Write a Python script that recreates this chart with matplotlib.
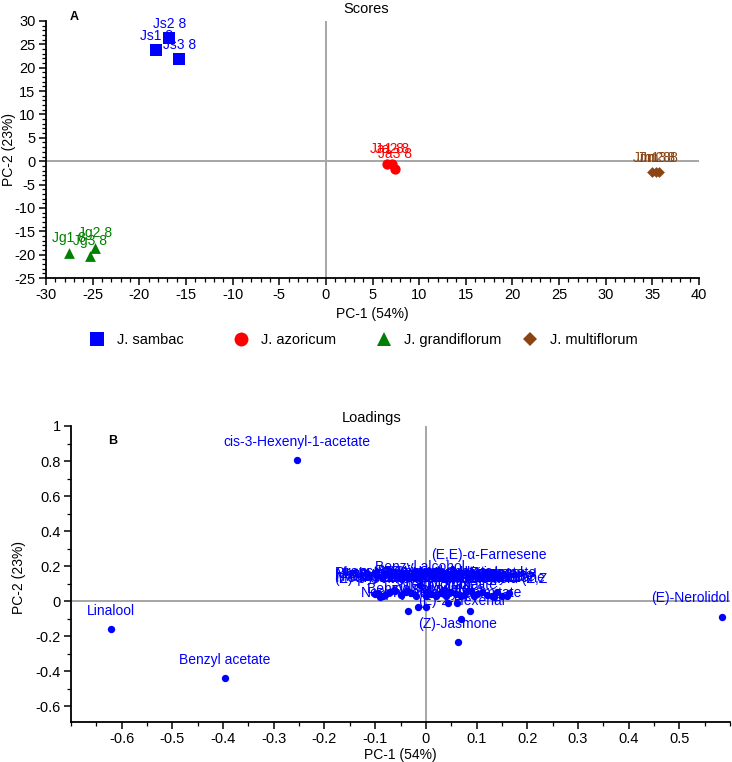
import matplotlib
matplotlib.use('Agg')
import matplotlib.pyplot as plt
from matplotlib.ticker import MultipleLocator
from matplotlib.lines import Line2D

plt.rcParams['font.family'] = ['Liberation Sans', 'DejaVu Sans']
plt.rcParams['axes.unicode_minus'] = False

# ---------------- Scores data ----------------
group_names = ['J. sambac', 'J. azoricum', 'J. grandiflorum', 'J. multiflorum']

sambac_labels = ['Js1 8', 'Js2 8', 'Js3 8']
sambac_pc1 = [-18.2, -16.8, -15.7]
sambac_pc2 = [23.7, 26.3, 21.8]

azoricum_labels = ['Ja1 8', 'Ja2 8', 'Ja3 8']
azoricum_pc1 = [6.6, 7.1, 7.4]
azoricum_pc2 = [-0.6, -0.6, -1.7]

grandiflorum_labels = ['Jg1 8', 'Jg2 8', 'Jg3 8']
grandiflorum_pc1 = [-27.5, -24.7, -25.3]
grandiflorum_pc2 = [-19.6, -18.5, -20.3]

multiflorum_labels = ['Jm1 8', 'Jm2 8', 'Jm3 8']
multiflorum_pc1 = [35.0, 35.4, 35.7]
multiflorum_pc2 = [-2.4, -2.4, -2.4]

# ---------------- Loadings data ----------------
loading_names = [
    'cis-3-Hexenyl-1-acetate', 'Linalool', 'Benzyl acetate', '(E)-Nerolidol',
    '(Z)-Jasmone', '(E,E)-α-Farnesene', '(E)-2-Hexenal', 'Methyl palmitate',
    'Neophytadiene', 'Benzyl salicylate', 'Linalool oxide', 'Methyl linoleate',
    'Nonanal',
    'trans-β-Ocimene', '(E)-β-Ocimene', 'Benzyl alcohol', 'Methyl benzoate',
    'Benzyl benzoate', 'Geranyl acetate', 'Indole', 'Methyl anthranilate',
    'Germacrene D', 'β-Caryophyllene', 'Linoleic acid (Z,Z', 'Methyl salicylate',
    'Eugenol', 'Phytol', 'Isophytol', 'δ-Cadinene', 'Nerol', 'Geraniol',
    '(Z)-3-Hexenyl benzoate', 'Phenylethyl alcohol', 'Methyl jasmonate',
    'Squalene', 'α-Terpineol', 'Benzaldehyde',
    'Methyl eugenol', 'Hexyl benzoate', 'Farnesol', 'Jasmolactone',
    'α-Muurolene', 'γ-Cadinene', 'T-Cadinol', 'Methyl cinnamate',
    'Benzyl tiglate', 'Hexyl acetate', 'Tetradecane', 'Geranyl acetone',
]
loading_pc1 = [
    -0.255, -0.622, -0.397, 0.585,
    0.063, 0.124, 0.070, 0.088,
    -0.035, -0.015, 0.001, 0.044,
    0.062,
    -0.062, -0.090, -0.012, 0.000,
    0.030, 0.035, 0.020, -0.050,
    0.060, -0.030, 0.135, 0.080,
    0.100, 0.150, 0.165, -0.080, -0.100, 0.090,
    0.050, -0.060, 0.110,
    0.070, -0.040, 0.000,
    -0.085, 0.120, 0.140, -0.020,
    0.040, 0.010, 0.130, -0.070,
    0.095, -0.095, 0.160, 0.075,
]
loading_pc2 = [
    0.805, -0.160, -0.440, -0.088,
    -0.235, 0.160, -0.100, -0.055,
    -0.055, -0.035, -0.035, -0.012,
    -0.013,
    0.065, 0.025, 0.090, 0.050,
    0.045, 0.065, 0.030, 0.035,
    0.040, 0.045, 0.025, 0.050,
    0.040, 0.030, 0.045, 0.035, 0.040, 0.060,
    0.055, 0.060, 0.055,
    0.030, 0.050, 0.028,
    0.030, 0.035, 0.055, 0.028,
    0.030, 0.040, 0.030, 0.050,
    0.028, 0.045, 0.028, 0.035,
]

DPI = 100
fig = plt.figure(figsize=(7.32, 7.62), dpi=DPI)

W, H = 732, 762
def ax_rect(x0, y0, x1, y1):
    return [x0 / W, 1 - y1 / H, (x1 - x0) / W, (y1 - y0) / H]

AXIS_GREY = '#a6a6a6'
TICK_FS = 10.5

def style_axes(ax):
    for s in ['top', 'right']:
        ax.spines[s].set_visible(False)
    for s in ['left', 'bottom']:
        ax.spines[s].set_linewidth(1.3)
        ax.spines[s].set_color('black')
    ax.tick_params(which='major', direction='out', length=5, width=1.1,
                   labelsize=TICK_FS, colors='black', pad=2.5)
    ax.tick_params(which='minor', direction='out', length=3, width=0.9)

# ---------------- Scores axes ----------------
ax1 = fig.add_axes(ax_rect(46, 21, 699, 278))
style_axes(ax1)
ax1.set_xlim(-30, 40)
ax1.set_ylim(-25, 30)
ax1.xaxis.set_major_locator(MultipleLocator(5))
ax1.xaxis.set_minor_locator(MultipleLocator(1))
ax1.yaxis.set_major_locator(MultipleLocator(5))
ax1.yaxis.set_minor_locator(MultipleLocator(1))
ax1.axhline(0, color=AXIS_GREY, lw=1.4, zorder=1)
ax1.axvline(0, color=AXIS_GREY, lw=1.4, zorder=1)

groups = [
    (sambac_pc1, sambac_pc2, sambac_labels, 's', '#0000ff', 75),
    (azoricum_pc1, azoricum_pc2, azoricum_labels, 'o', '#ff0000', 55),
    (grandiflorum_pc1, grandiflorum_pc2, grandiflorum_labels, '^', '#008000', 60),
    (multiflorum_pc1, multiflorum_pc2, multiflorum_labels, 'D', '#8b4513', 30),
]
for xs, ys, labs, mk, col, sz in groups:
    ax1.scatter(xs, ys, marker=mk, s=sz, color=col, zorder=3, linewidths=0)
    for x, y, t in zip(xs, ys, labs):
        ax1.annotate(t, (x, y), xytext=(0, 5.5), textcoords='offset points',
                     ha='center', va='bottom', color=col, fontsize=10)

ax1.set_xlabel('PC-1 (54%)', fontsize=10, labelpad=3)
fig.text(9 / W, 1 - 150 / H, 'PC-2 (23%)', rotation=90, ha='center',
         va='center', fontsize=10)
fig.text(74 / W, 1 - 17 / H, 'A', fontsize=9, fontweight='bold',
         ha='center', va='center')
fig.text(366 / W, 1 - 9 / H, 'Scores', ha='center', va='center', fontsize=10.5)

# Legend (four single-entry legends spaced evenly)
leg_markers = ['s', 'o', '^', 'D']
leg_colors = ['#0000ff', '#ff0000', '#008000', '#8b4513']
leg_sizes = [10, 10, 10, 7]
leg_x = [81, 225, 368, 514]
for name, mk, col, ms, lx in zip(group_names, leg_markers, leg_colors, leg_sizes, leg_x):
    h = Line2D([], [], marker=mk, color=col, linestyle='none', markersize=ms,
               markeredgewidth=0)
    fig.legend(handles=[h], labels=[name], loc='center left',
               bbox_to_anchor=(lx / W, 1 - 340 / H), frameon=False,
               fontsize=10.5, handletextpad=0.8, borderpad=0, handlelength=1.2)

# ---------------- Loadings axes ----------------
ax2 = fig.add_axes(ax_rect(71, 426, 730, 722))
style_axes(ax2)
ax2.set_xlim(-0.7, 0.6)
ax2.set_ylim(-0.69, 1.0)
ax2.set_xticks([-0.6, -0.5, -0.4, -0.3, -0.2, -0.1, 0, 0.1, 0.2, 0.3, 0.4, 0.5])
ax2.set_xticklabels(['-0.6', '-0.5', '-0.4', '-0.3', '-0.2', '-0.1', '0',
                     '0.1', '0.2', '0.3', '0.4', '0.5'])
ax2.xaxis.set_minor_locator(MultipleLocator(0.05))
ax2.set_yticks([-0.6, -0.4, -0.2, 0, 0.2, 0.4, 0.6, 0.8, 1.0])
ax2.set_yticklabels(['-0.6', '-0.4', '-0.2', '0', '0.2', '0.4', '0.6', '0.8', '1'])
ax2.yaxis.set_minor_locator(MultipleLocator(0.1))
ax2.axhline(0, color=AXIS_GREY, lw=1.4, zorder=1)
ax2.axvline(0, color=AXIS_GREY, lw=1.4, zorder=1)

ax2.scatter(loading_pc1, loading_pc2, s=28, color='#0000ff', zorder=3, linewidths=0)
anns = []
for x, y, t in zip(loading_pc1, loading_pc2, loading_names):
    a = ax2.annotate(t, (x, y), xytext=(0, 8), textcoords='offset points',
                     ha='center', va='bottom', color='#0000ff', fontsize=10,
                     zorder=4)
    anns.append(a)

ax2.set_xlabel('PC-1 (54%)', fontsize=10, labelpad=1)
fig.text(19 / W, 1 - 577 / H, 'PC-2 (23%)', rotation=90, ha='center',
         va='center', fontsize=10)
fig.text(113 / W, 1 - 441 / H, 'B', fontsize=9, fontweight='bold',
         ha='center', va='center')
fig.text(372 / W, 1 - 418 / H, 'Loadings', ha='center', va='center', fontsize=10.5)

# keep labels inside the loadings axes
fig.canvas.draw()
renderer = fig.canvas.get_renderer()
abox = ax2.get_window_extent(renderer)
for a in anns:
    bb = a.get_window_extent(renderer)
    shift = 0.0
    if bb.x1 > abox.x1:
        shift = abox.x1 - bb.x1
    elif bb.x0 < abox.x0 + 15:
        shift = abox.x0 + 15 - bb.x0
    if shift:
        dx, dy = a.xyann
        a.xyann = (dx + shift * 72 / DPI, dy)

fig.savefig('out.png', dpi=DPI)
